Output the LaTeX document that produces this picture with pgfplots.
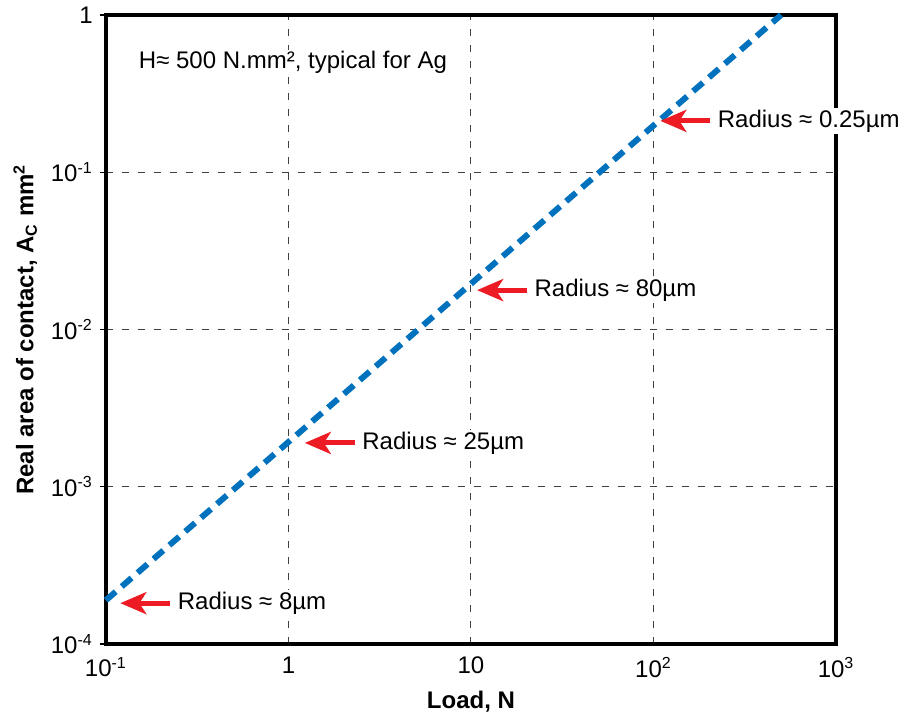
\documentclass[border=0pt]{standalone}
\usepackage{fontspec}
\setmainfont{Liberation Sans}
\usepackage{pgfplots}
\pgfplotsset{compat=1.18}
\usetikzlibrary{arrows.meta}
\definecolor{lineblue}{RGB}{0,114,189}
\definecolor{arrowred}{RGB}{237,28,36}

\begin{document}
\begin{tikzpicture}[font=\fontsize{12}{14}\selectfont]
\begin{axis}[
    xmode=log, ymode=log,
    scale only axis, width=365pt, height=314.5pt,
    xmin=0.1, xmax=1000, ymin=1e-4, ymax=1,
    xtick={0.1,1,10,100,1000},
    xticklabels={10\textsuperscript{-1},1,10,10\textsuperscript{2},10\textsuperscript{3}},
    ytick={1e-4,1e-3,1e-2,1e-1,1},
    yticklabels={10\textsuperscript{-4},10\textsuperscript{-3},10\textsuperscript{-2},10\textsuperscript{-1},1},
    xminorticks=false, yminorticks=false,
    tick pos=left, tick align=outside,
    x tick style={draw=none}, y tick style={black, line width=0.6pt},
    major tick length=3pt,
    grid=major, major grid style={black!75, line width=0.5pt, dash pattern=on 3.5pt off 4.5pt},
    axis line style={line width=2pt},
    /pgf/number format/assume math mode=true,
    xlabel={\textbf{Load, N}},
    ylabel={\textbf{Real area of contact, A\textsubscript{C} mm\textsuperscript{2}}},
    clip=false,
]
\addplot[lineblue, line width=3pt, dash pattern=on 6.5pt off 4pt] coordinates {(0.1,1.9e-4) (500,1)};

\coordinate (a1) at (axis cs:0.12,1.82e-4);
\coordinate (a2) at (axis cs:1.23,1.9e-3);
\coordinate (a3) at (axis cs:10.8,1.78e-2);
\coordinate (a4) at (axis cs:109,0.212);
\coordinate (h) at (rel axis cs:0.042,0.924);
\coordinate (bb1) at (rel axis cs:-0.145,-0.121);
\coordinate (bb2) at (rel axis cs:1.104,1.019);
\end{axis}
\path (bb1) rectangle (bb2);
\node[anchor=west, fill=white, inner sep=1pt] at (h) {H≈ 500 N.mm², typical for Ag};
\tikzset{redarrow/.style={arrowred, line width=2.5pt, {Stealth[length=13pt,width=11pt,inset=3.5pt]}-},
  lbl/.style={right, fill=white, inner sep=1pt, text=black, xshift=1.5pt}}
\draw[redarrow] (a1) -- ++(25pt,0) node[lbl] {Radius ≈ 8µm};
\draw[redarrow] (a2) -- ++(25pt,0) node[lbl] {Radius ≈ 25µm};
\draw[redarrow] (a3) -- ++(25pt,0) node[lbl] {Radius ≈ 80µm};
\draw[redarrow] (a4) -- ++(25pt,0) node[lbl] {Radius ≈ 0.25µm};
\end{tikzpicture}
\end{document}
